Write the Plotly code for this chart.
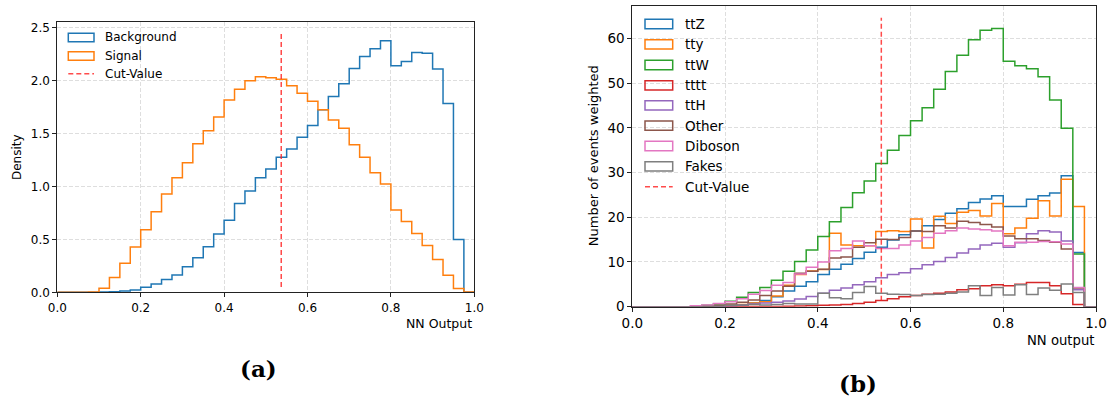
import plotly.graph_objects as go

W, H = 1112, 405

# ---------------- data ----------------
BIN_EDGES = [i / 40 for i in range(41)]  # 40 bins of width 0.025 on [0, 1]
CUT_VALUE = 0.537

# Panel (a): normalised densities
background_density = [0, 0, 0, 0, 0.003, 0.006, 0.013, 0.022, 0.047, 0.079,
                      0.12, 0.164, 0.242, 0.327, 0.431, 0.551, 0.68, 0.838, 0.957, 1.083,
                      1.165, 1.275, 1.354, 1.465, 1.575, 1.724, 1.85, 1.97, 2.115, 2.229,
                      2.301, 2.377, 2.14, 2.181, 2.266, 2.26, 2.109, 1.783, 0.499, 0.0]
signal_density = [0, 0, 0, 0.003, 0.038, 0.139, 0.274, 0.428, 0.592, 0.762,
                  0.929, 1.083, 1.225, 1.404, 1.527, 1.656, 1.817, 1.918, 2.0, 2.037,
                  2.027, 2.014, 1.951, 1.881, 1.806, 1.724, 1.629, 1.55, 1.395, 1.275,
                  1.13, 1.023, 0.777, 0.669, 0.556, 0.442, 0.309, 0.161, 0.035, 0.003]

# Panel (b): weighted event counts per process
ttZ = [0, 0, 0, 0, 0, 0, 0.05, 0.1, 0.2, 0.4,
       0.8, 1.4, 2.2, 3.5, 4.6, 5.6, 7.2, 8.4, 9.5, 10.8,
       12.2, 13.3, 14.9, 16.1, 16.9, 18.1, 19.5, 20.9, 21.9, 23.3,
       24.1, 24.8, 22.4, 22.4, 24.0, 24.8, 25.4, 29.3, 12.1, 0]
tty = [0, 0, 0, 0, 0, 0, 0, 0.1, 0.3, 0.5,
       0.8, 1.1, 2.4, 4.8, 7.2, 8.0, 8.3, 16.4, 13.8, 13.6,
       13.6, 16.8, 17.0, 16.8, 19.6, 13.1, 20.2, 18.6, 21.1, 21.5,
       20.3, 23.1, 16.3, 17.6, 19.8, 23.7, 20.3, 28.5, 22.4, 0]
ttW = [0, 0, 0, 0, 0, 0, 0.3, 0.6, 1.2, 2.1,
       3.2, 4.3, 5.9, 7.9, 10.1, 12.7, 15.7, 19.0, 22.2, 25.5,
       28.1, 32.0, 35.0, 38.3, 41.6, 44.5, 48.6, 52.6, 56.2, 59.7,
       61.8, 62.2, 54.9, 53.9, 53.2, 51.4, 46.2, 39.9, 11.8, 0]
tttt = [0, 0, 0, 0, 0, 0, 0, 0, 0, 0,
        0.02, 0.03, 0.05, 0.1, 0.15, 0.2, 0.3, 0.4, 0.5, 0.7,
        1.0, 1.4, 1.8, 2.2, 2.5, 2.8, 3.0, 3.3, 3.8, 4.0,
        4.7, 4.9, 4.7, 5.0, 5.4, 5.4, 4.7, 2.9, 0.5, 0]
ttH = [0, 0, 0, 0, 0, 0, 0.05, 0.1, 0.2, 0.4,
       0.6, 0.8, 1.0, 1.3, 1.7, 2.3, 3.0, 3.7, 4.2, 4.9,
       5.6, 6.5, 7.2, 7.6, 8.5, 9.4, 10.1, 11.0, 12.0, 12.9,
       13.8, 14.2, 13.3, 14.3, 16.3, 17.0, 16.7, 14.7, 3.8, 0]
Other = [0, 0, 0, 0, 0, 0, 0.1, 0.3, 0.6, 1.0,
         1.5, 2.5, 3.5, 4.6, 7.5, 7.9, 8.4, 10.9, 11.1, 13.3,
         14.3, 15.1, 15.0, 15.5, 16.9, 16.8, 18.1, 17.6, 19.1, 18.8,
         18.4, 17.8, 15.8, 15.2, 15.2, 14.8, 14.4, 12.9, 4.2, 0]
Diboson = [0, 0, 0, 0, 0, 0.2, 0.4, 0.7, 1.1, 1.8,
           2.8, 3.6, 4.8, 5.4, 7.3, 8.8, 10.0, 12.5, 13.0, 14.7,
           13.6, 13.0, 13.0, 13.8, 14.7, 15.5, 16.4, 17.0, 17.6, 17.4,
           17.2, 16.9, 13.6, 14.4, 14.4, 14.6, 14.5, 14.0, 4.3, 0]
Fakes = [0, 0, 0, 0, 0, 0, 0.05, 0.1, 0.3, 0.4,
         0.5, 0.4, 0.5, 0.7, 0.6, 0.6, 3.0, 2.0, 1.8, 3.2,
         4.5, 3.0, 2.8, 2.7, 2.5, 2.7, 2.8, 3.0, 3.3, 4.7,
         2.5, 4.3, 2.6, 4.9, 2.7, 4.2, 3.7, 5.1, 3.2, 0]

PANEL_A_SERIES = ["Background", "Signal"]
PANEL_B_SERIES = ["ttZ", "tty", "ttW", "tttt", "ttH", "Other", "Diboson", "Fakes"]
PANEL_A_VALUES = [background_density, signal_density]
PANEL_B_VALUES = [ttZ, tty, ttW, tttt, ttH, Other, Diboson, Fakes]
TICKS_X = [0, 0.2, 0.4, 0.6, 0.8, 1.0]
TICKS_A_Y = [0, 0.5, 1.0, 1.5, 2.0, 2.5]
TICKS_B_Y = [0, 10, 20, 30, 40, 50, 60]

COLORS = ["#1f77b4", "#ff7f0e", "#2ca02c", "#d62728", "#9467bd",
          "#8c564b", "#e377c2", "#7f7f7f"]
CUT_COLOR = "rgba(255,30,30,0.8)"
FONT = "DejaVu Sans"


def px_x(p):
    return p / W


def px_y(p):
    return 1 - p / H


def step_xy(vals):
    xs = [BIN_EDGES[0]] + BIN_EDGES[:-1] + [BIN_EDGES[-1], BIN_EDGES[-1]]
    ys = [0] + list(vals) + [vals[-1], 0]
    return xs, ys


fig = go.Figure()

for name, vals, col in zip(PANEL_A_SERIES, PANEL_A_VALUES, COLORS):
    xs, ys = step_xy(vals)
    fig.add_trace(go.Scatter(x=xs, y=ys, mode="lines", line=dict(color=col, width=1.5, shape="hv"),
                             name=name, xaxis="x", yaxis="y", showlegend=False))

for name, vals, col in zip(PANEL_B_SERIES, PANEL_B_VALUES, COLORS):
    xs, ys = step_xy(vals)
    fig.add_trace(go.Scatter(x=xs, y=ys, mode="lines", line=dict(color=col, width=1.5, shape="hv"),
                             name=name, xaxis="x2", yaxis="y2", showlegend=False))

# frames (pixels)
A_L, A_R, A_T, A_B = 57.3, 474.3, 21.7, 292.3
B_L, B_R, B_T, B_B = 632.3, 1096.0, 5.7, 306.7

grid = dict(showgrid=True, gridcolor="#dedede", gridwidth=0.8, griddash="4px,2px")
axis_common = dict(showline=True, linecolor="#222", linewidth=1, mirror=True,
                   ticks="outside", ticklen=4, tickwidth=1, tickcolor="#222",
                   zeroline=False, automargin=False, **grid)

fig.update_layout(
    width=W, height=H, margin=dict(l=0, r=0, t=0, b=0, autoexpand=False),
    paper_bgcolor="white", plot_bgcolor="white",
    font=dict(family=FONT, color="black"),
    xaxis=dict(domain=[px_x(A_L), px_x(A_R)], range=[0, 1], tickvals=TICKS_X,
               tickformat=".1f", tickfont=dict(size=12), anchor="y", **axis_common),
    yaxis=dict(domain=[px_y(A_B), px_y(A_T)], range=[0, 2.557], tickvals=TICKS_A_Y,
               tickformat=".1f", tickfont=dict(size=12), anchor="x", **axis_common),
    xaxis2=dict(domain=[px_x(B_L), px_x(B_R)], range=[0, 1], tickvals=TICKS_X,
                tickformat=".1f", tickfont=dict(size=13.5), anchor="y2", **axis_common),
    yaxis2=dict(domain=[px_y(B_B), px_y(B_T)], range=[0, 67.3], tickvals=TICKS_B_Y,
                tickfont=dict(size=13.5), anchor="x2", **axis_common),
)

shapes = []
annotations = []

# cut lines
for xr, yr in (("x", "y domain"), ("x2", "y2 domain")):
    shapes.append(dict(type="line", xref=xr, yref=yr, x0=CUT_VALUE, x1=CUT_VALUE, y0=0.02, y1=0.96,
                       line=dict(color=CUT_COLOR, width=1.5, dash="5px,3px")))


def legend(entries, x0, x1, yc_list, box_h, text_x, size):
    for (label, col, kind), yc in zip(entries, yc_list):
        if kind == "box":
            shapes.append(dict(type="rect", xref="paper", yref="paper",
                               x0=px_x(x0), x1=px_x(x1), y0=px_y(yc + box_h / 2), y1=px_y(yc - box_h / 2),
                               line=dict(color=col, width=1.5), fillcolor="rgba(0,0,0,0)"))
        else:
            shapes.append(dict(type="line", xref="paper", yref="paper",
                               x0=px_x(x0), x1=px_x(x1), y0=px_y(yc), y1=px_y(yc),
                               line=dict(color=col, width=1.5, dash="5px,3px")))
        annotations.append(dict(xref="paper", yref="paper", x=px_x(text_x), y=px_y(yc),
                                text=label, showarrow=False, xanchor="left", yanchor="middle",
                                font=dict(size=size, family=FONT, color="black")))


legend([(n, c, "box") for n, c in zip(PANEL_A_SERIES, COLORS)] + [("Cut-Value", CUT_COLOR, "line")],
       68.3, 94.0, [37.5, 56.0, 73.7], 8.3, 102.5, 12)
legend([(n, c, "box") for n, c in zip(PANEL_B_SERIES, COLORS)] + [("Cut-Value", CUT_COLOR, "line")],
       645.0, 672.7, [24.0, 44.3, 65.0, 85.3, 105.3, 125.7, 146.0, 166.3, 186.7], 9.3, 682.5, 13.5)

# axis titles
annotations += [
    dict(xref="paper", yref="paper", x=px_x(A_R), y=px_y(323), text="NN Output", showarrow=False,
         xanchor="right", yanchor="middle", font=dict(size=12.5)),
    dict(xref="paper", yref="paper", x=px_x(17), y=px_y((A_T + A_B) / 2), text="Density", showarrow=False,
         textangle=-90, xanchor="center", yanchor="middle", font=dict(size=12)),
    dict(xref="paper", yref="paper", x=px_x(B_R), y=px_y(340), text="NN output", showarrow=False,
         xanchor="right", yanchor="middle", font=dict(size=13.2)),
    dict(xref="paper", yref="paper", x=px_x(593), y=px_y((B_T + B_B) / 2), text="Number of events weighted",
         showarrow=False, textangle=-90, xanchor="center", yanchor="middle", font=dict(size=13)),
    dict(xref="paper", yref="paper", x=px_x(258), y=px_y(368), text="<b>(a)</b>", showarrow=False,
         xanchor="center", yanchor="middle", font=dict(size=23, family="DejaVu Serif")),
    dict(xref="paper", yref="paper", x=px_x(858), y=px_y(383), text="<b>(b)</b>", showarrow=False,
         xanchor="center", yanchor="middle", font=dict(size=23, family="DejaVu Serif")),
]

fig.update_layout(shapes=shapes, annotations=annotations)
fig.write_html("out.html")
